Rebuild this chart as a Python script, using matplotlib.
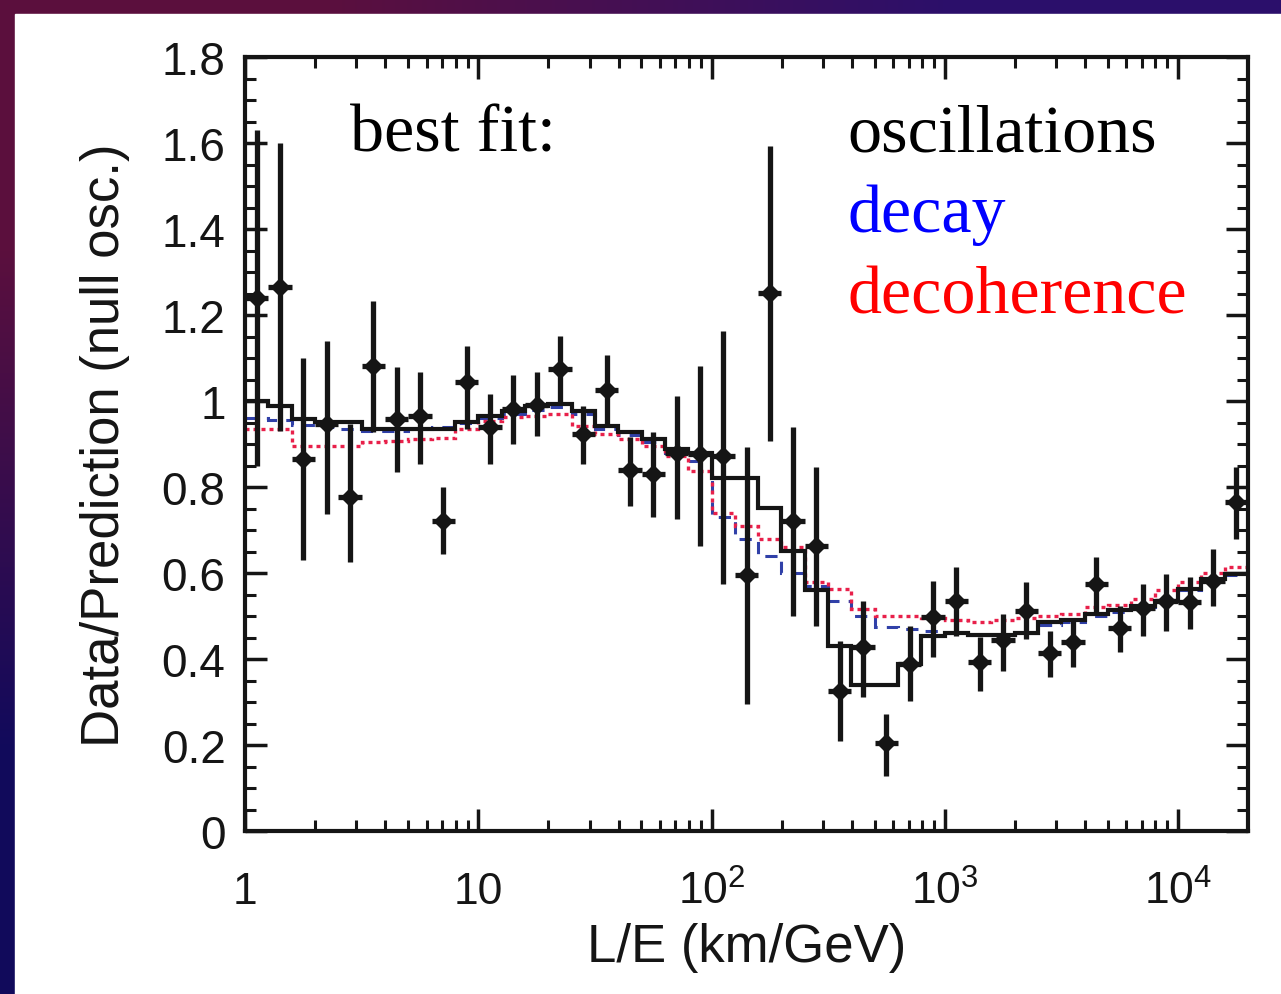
import numpy as np
import matplotlib.pyplot as plt
from matplotlib.patches import Rectangle
from matplotlib.ticker import LogLocator, MultipleLocator, NullFormatter

plt.rcParams['mathtext.fontset'] = 'custom'
plt.rcParams['mathtext.rm'] = 'Liberation Sans'

# 43 bins, 0.1 decade wide, L/E from 1 to 10^4.3 km/GeV
log_edges = np.arange(44) * 0.1
edges = 10 ** log_edges
centers = 10 ** (log_edges[:-1] + 0.05)

data_y = [1.24, 1.265, 0.865, 0.947, 0.777, 1.081, 0.958, 0.965, 0.721, 1.044,
          0.94, 0.981, 0.991, 1.074, 0.923, 1.026, 0.84, 0.83, 0.88, 0.877,
          0.872, 0.595, 1.251, 0.721, 0.663, 0.326, 0.428, 0.205, 0.388, 0.498,
          0.535, 0.393, 0.445, 0.512, 0.414, 0.44, 0.574, 0.472, 0.519, 0.535,
          0.533, 0.581, 0.765]
data_hi = [1.63, 1.60, 1.10, 1.14, 0.947, 1.233, 1.079, 1.067, 0.80, 1.128,
           1.016, 1.06, 1.067, 1.151, 0.988, 1.107, 0.916, 0.928, 1.012, 1.081,
           1.163, 0.893, 1.593, 0.94, 0.847, 0.442, 0.535, 0.272, 0.477, 0.581,
           0.614, 0.451, 0.505, 0.579, 0.465, 0.488, 0.637, 0.523, 0.574, 0.598,
           0.591, 0.656, 0.847]
data_lo = [0.85, 0.93, 0.63, 0.737, 0.625, 0.928, 0.835, 0.853, 0.644, 0.935,
           0.853, 0.90, 0.918, 0.993, 0.853, 0.942, 0.756, 0.73, 0.726, 0.663,
           0.574, 0.295, 0.907, 0.50, 0.477, 0.209, 0.312, 0.128, 0.302, 0.405,
           0.453, 0.326, 0.372, 0.447, 0.358, 0.381, 0.509, 0.416, 0.453, 0.465,
           0.47, 0.523, 0.679]

# best fit predictions per bin
osc_fit = [1.0, 0.988, 0.958, 0.951, 0.951, 0.935, 0.935, 0.935, 0.935, 0.951,
           0.965, 0.977, 0.988, 0.993, 0.977, 0.942, 0.928, 0.912, 0.888, 0.879,
           0.82, 0.82, 0.751, 0.651, 0.56, 0.43, 0.34, 0.34, 0.388, 0.453,
           0.46, 0.455, 0.455, 0.46, 0.486, 0.49, 0.505, 0.515, 0.523, 0.535,
           0.563, 0.586, 0.598]
decay_fit = [0.96, 0.955, 0.945, 0.94, 0.935, 0.93, 0.93, 0.935, 0.94, 0.95,
             0.96, 0.97, 0.98, 0.985, 0.97, 0.935, 0.92, 0.905, 0.88, 0.86,
             0.73, 0.68, 0.64, 0.60, 0.57, 0.535, 0.50, 0.475, 0.47, 0.465,
             0.46, 0.455, 0.455, 0.46, 0.48, 0.485, 0.50, 0.51, 0.52, 0.535,
             0.56, 0.58, 0.595]
decoh_fit = [0.935, 0.935, 0.895, 0.895, 0.895, 0.905, 0.908, 0.912, 0.915, 0.935,
             0.953, 0.963, 0.965, 0.97, 0.942, 0.923, 0.912, 0.895, 0.872, 0.837,
             0.74, 0.71, 0.68, 0.66, 0.58, 0.563, 0.516, 0.50, 0.50, 0.495,
             0.49, 0.485, 0.49, 0.495, 0.50, 0.505, 0.52, 0.525, 0.54, 0.56,
             0.58, 0.60, 0.615]

y_ticks = [0, 0.2, 0.4, 0.6, 0.8, 1.0, 1.2, 1.4, 1.6, 1.8]
y_ticklabels = ['0', '0.2', '0.4', '0.6', '0.8', '1', '1.2', '1.4', '1.6', '1.8']
x_ticks = [1, 10, 100, 1000, 10000]
x_ticklabels = ['1', '10', r'$\mathregular{10^{2}}$', r'$\mathregular{10^{3}}$',
                r'$\mathregular{10^{4}}$']


def main():
    W, H = 1281, 995
    fig = plt.figure(figsize=(W / 100, H / 100), dpi=100)

    # slide-like dark border with gradient
    bg = fig.add_axes([0, 0, 1, 1], zorder=-10)
    bg.axis('off')
    corners = np.array([[[0.36, 0.06, 0.24], [0.17, 0.06, 0.42]],
                        [[0.07, 0.04, 0.36], [0.10, 0.04, 0.38]]])
    bg.imshow(corners, extent=[0, 1, 0, 1], aspect='auto', interpolation='bilinear')
    bg.set_xlim(0, 1)
    bg.set_ylim(0, 1)
    bg.add_patch(Rectangle((15 / W, 0), 1, 1 - 15 / H, color='white'))

    ax = fig.add_axes([245 / W, 1 - 832 / H, (1248 - 245) / W, (832 - 58) / H])
    ax.set_xscale('log')
    ax.set_xlim(edges[0], edges[-1])
    ax.set_ylim(0, 1.8)

    ax.stairs(decay_fit, edges, baseline=None, color='#3040a8', lw=2.2,
              linestyle=(0, (4, 3)), zorder=2)
    ax.stairs(decoh_fit, edges, baseline=None, color='#e8204a', lw=2.4,
              linestyle=(0, (1.2, 1.2)), zorder=2)
    ax.stairs(osc_fit, edges, baseline=None, color='#151515', lw=3.0, zorder=3)

    y = np.array(data_y)
    yerr = [y - np.array(data_lo), np.array(data_hi) - y]
    xerr = [centers - edges[:-1], edges[1:] - centers]
    ax.errorbar(centers, y, yerr=yerr, xerr=xerr, fmt='D', color='#151515',
                ms=9, mew=1, elinewidth=3.8, capsize=0, zorder=4)

    # ticks
    ax.set_xticks(x_ticks)
    ax.set_xticklabels(x_ticklabels)
    ax.xaxis.set_minor_locator(LogLocator(base=10, subs=np.arange(2, 10)))
    ax.xaxis.set_minor_formatter(NullFormatter())
    ax.set_yticks(y_ticks)
    ax.set_yticklabels(y_ticklabels)
    ax.yaxis.set_minor_locator(MultipleLocator(0.05))
    ax.tick_params(which='both', direction='in', top=True, right=True, color='#151515')
    ax.tick_params(which='major', length=16, width=2.5)
    ax.tick_params(which='minor', length=8, width=2.2)
    ax.tick_params(axis='y', labelsize=33, pad=14)
    ax.tick_params(axis='x', labelsize=32, pad=52)
    for lab in ax.get_xticklabels() + ax.get_yticklabels():
        lab.set_family('Liberation Sans')
        lab.set_color('#151515')
    for lab in ax.get_xticklabels():
        lab.set_verticalalignment('baseline')
    for s in ax.spines.values():
        s.set_linewidth(3)
        s.set_color('#151515')

    ax.set_xlabel('L/E (km/GeV)', fontsize=38, family='Liberation Sans', color='#151515')
    ax.set_ylabel('Data/Prediction (null osc.)', fontsize=38, family='Liberation Sans',
                  color='#151515')
    ax.xaxis.set_label_coords(0.5, -0.118)
    ax.yaxis.set_label_coords(-0.115, 0.5)

    serif = 'Liberation Serif'
    ax.text(0.1047, 0.8786, 'best fit:', transform=ax.transAxes, fontsize=49,
            family=serif, va='baseline', color='black')
    ax.text(0.601, 0.8786, 'oscillations', transform=ax.transAxes, fontsize=49,
            family=serif, va='baseline', color='black')
    ax.text(0.601, 0.775, 'decay', transform=ax.transAxes, fontsize=49,
            family=serif, va='baseline', color='#0000ff')
    ax.text(0.601, 0.6705, 'decoherence', transform=ax.transAxes, fontsize=49,
            family=serif, va='baseline', color='#ff0000')

    fig.savefig('out.png', dpi=100)


if __name__ == "__main__":
    main()
